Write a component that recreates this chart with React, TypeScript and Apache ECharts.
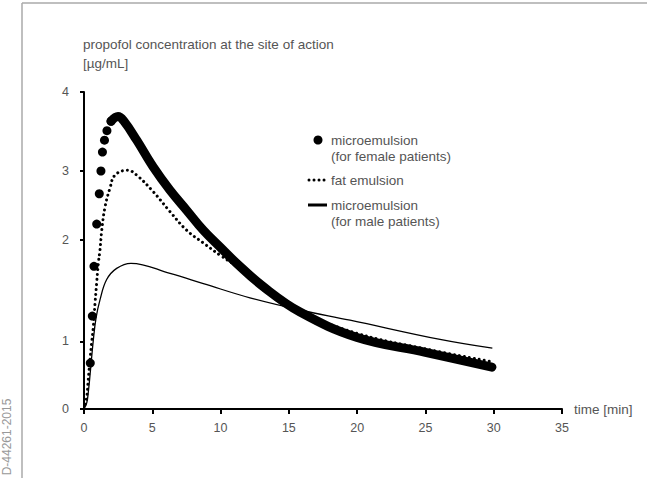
import React, { useEffect, useRef } from 'react';
import * as echarts from 'echarts';

// ---- data (time in min, concentration in µg/mL) ----
const femaleDotTimes = [0.46, 0.61, 0.73, 0.93, 1.12, 1.24, 1.35, 1.5, 1.68, 1.98];
const femaleDotValues = [0.68, 1.25, 1.74, 2.23, 2.67, 3.0, 3.24, 3.39, 3.51, 3.63];

const femaleBandTimes = [1.98, 2.49, 2.93, 3.86, 5.07, 6.3, 7.52, 8.74, 9.96, 11.18, 13.13, 15.82, 20, 25, 29.87];
const femaleBandValues = [3.63, 3.69, 3.63, 3.39, 3.05, 2.72, 2.43, 2.14, 1.93, 1.77, 1.54, 1.29, 1.04, 0.84, 0.62];

const fatTimes = [0, 0.2, 0.31, 0.44, 0.56, 0.68, 0.81, 0.93, 1.05, 1.17, 1.3, 1.54, 1.9, 2.27, 3.2, 3.86, 5.07, 6.3, 7.52, 8.74, 9.96, 11.18, 13.1, 15.8, 20, 25, 29.9];
const fatValues = [0, 0.18, 0.43, 0.73, 0.98, 1.14, 1.38, 1.58, 1.77, 1.9, 2.14, 2.48, 2.75, 2.94, 3.01, 2.94, 2.7, 2.41, 2.14, 1.97, 1.85, 1.74, 1.53, 1.3, 1.08, 0.89, 0.7];

const maleTimes = [0, 0.2, 0.31, 0.44, 0.68, 0.88, 1.17, 1.66, 2.39, 3.44, 6.3, 8.74, 12.15, 15.82, 19.48, 26.07, 29.9];
const maleValues = [0, 0.09, 0.24, 0.5, 1.01, 1.23, 1.41, 1.61, 1.72, 1.77, 1.67, 1.57, 1.43, 1.31, 1.21, 1.02, 0.9];

const xTickLabels = ['0', '5', '10', '15', '20', '25', '30', '35'];
const yTickLabels = ['0', '1', '2', '3', '4'];
const yTickValues = [0, 1, 2, 3, 4];
// the printed y axis is unevenly graduated: where each labelled value sits on the axis
const yTickAxisPos = [0, 0.852, 2.133, 3.003, 4];

const seriesNames = ['microemulsion\n(for female patients)', 'fat emulsion', 'microemulsion\n(for male patients)'];

function toAxis(v: number): number {
  for (let i = 0; i < yTickValues.length - 1; i++) {
    const a = yTickValues[i], b = yTickValues[i + 1];
    if (v <= b || i === yTickValues.length - 2) {
      const f = (v - a) / (b - a);
      return yTickAxisPos[i] + f * (yTickAxisPos[i + 1] - yTickAxisPos[i]);
    }
  }
  return v;
}

const pairs = (ts: number[], vs: number[]) => ts.map((t, i) => [t, toAxis(vs[i])]);

const FONT = '"Liberation Sans", Arial, Helvetica, sans-serif';
const TXT = '#555';

export default function App() {
  const ref = useRef<HTMLDivElement>(null);
  useEffect(() => {
    const chart = echarts.init(ref.current!, null, { renderer: 'svg' });
    const option: any = {
      animation: false,
      backgroundColor: '#fff',
      textStyle: { fontFamily: FONT },
      title: {
        text: 'propofol concentration at the site of action\n[µg/mL]',
        left: 78,
        top: 30,
        textStyle: { fontSize: 13.5, fontWeight: 'normal', color: TXT, lineHeight: 19, fontFamily: FONT },
      },
      grid: { left: 84, right: 85, top: 92, bottom: 69, containLabel: false },
      xAxis: {
        type: 'value',
        min: 0,
        max: 35,
        interval: 5,
        name: 'time [min]',
        nameLocation: 'end',
        nameGap: 12,
        nameTextStyle: { color: TXT, fontSize: 13.5, fontFamily: FONT, align: 'left', verticalAlign: 'middle' },
        axisLine: { show: true, lineStyle: { color: '#000', width: 2 } },
        axisTick: { show: true, length: 5, lineStyle: { color: '#000', width: 2 } },
        axisLabel: {
          color: TXT,
          fontSize: 12.5,
          margin: 12,
          formatter: (v: number) => xTickLabels[Math.round(v / 5)] ?? '',
        },
        splitLine: { show: false },
      },
      yAxis: {
        type: 'value',
        min: 0,
        max: 4,
        axisLine: { show: true, lineStyle: { color: '#000', width: 2 } },
        axisTick: { show: true, length: 4, customValues: yTickAxisPos, lineStyle: { color: '#000', width: 2 } },
        axisLabel: {
          color: TXT,
          fontSize: 12.5,
          margin: 15,
          customValues: yTickAxisPos,
          formatter: (v: number) => {
            let best = 0;
            yTickAxisPos.forEach((p, i) => {
              if (Math.abs(p - v) < Math.abs(yTickAxisPos[best] - v)) best = i;
            });
            return yTickLabels[best];
          },
        },
        splitLine: { show: false },
      },
      series: [
        {
          name: seriesNames[0],
          type: 'line',
          data: pairs(femaleBandTimes, femaleBandValues),
          smooth: 0.4,
          showSymbol: false,
          lineStyle: { color: '#000', width: 9, cap: 'round', join: 'round', opacity: 1 },
          z: 2,
        },
        {
          name: seriesNames[0],
          type: 'scatter',
          data: pairs(femaleDotTimes, femaleDotValues),
          symbol: 'circle',
          symbolSize: 9,
          itemStyle: { color: '#000', opacity: 1 },
          z: 3,
        },
        {
          name: seriesNames[1],
          type: 'line',
          data: pairs(fatTimes, fatValues),
          smooth: 0.4,
          showSymbol: false,
          lineStyle: { color: '#000', width: 3, type: [0.01, 5], cap: 'round' },
          z: 4,
        },
        {
          name: seriesNames[2],
          type: 'line',
          data: pairs(maleTimes, maleValues),
          smooth: 0.4,
          showSymbol: false,
          lineStyle: { color: '#000', width: 1.3 },
          z: 5,
        },
      ],
      graphic: [
        // frame
        { type: 'line', shape: { x1: 22, y1: 3, x2: 660, y2: 3 }, style: { stroke: '#aaa', lineWidth: 1.5 } },
        { type: 'line', shape: { x1: 22, y1: 3, x2: 22, y2: 490 }, style: { stroke: '#aaa', lineWidth: 1.5 } },
        {
          type: 'text',
          x: 7,
          y: 437,
          rotation: Math.PI / 2,
          style: { text: 'D-44261-2015', fill: '#999', font: `12px ${FONT}`, align: 'center', verticalAlign: 'middle' },
        },
        // legend
        { type: 'circle', shape: { cx: 318, cy: 140, r: 4.5 }, style: { fill: '#000' } },
        {
          type: 'text',
          x: 331,
          y: 132,
          style: { text: seriesNames[0], fill: TXT, font: `13.5px ${FONT}`, lineHeight: 16, verticalAlign: 'top' },
        },
        {
          type: 'line',
          shape: { x1: 309, y1: 180, x2: 327, y2: 180 },
          style: { stroke: '#000', lineWidth: 3, lineDash: [0.01, 5], lineCap: 'round' },
        },
        {
          type: 'text',
          x: 331,
          y: 172,
          style: { text: seriesNames[1], fill: TXT, font: `13.5px ${FONT}`, lineHeight: 16, verticalAlign: 'top' },
        },
        { type: 'line', shape: { x1: 308, y1: 205, x2: 327, y2: 205 }, style: { stroke: '#000', lineWidth: 3 } },
        {
          type: 'text',
          x: 331,
          y: 197,
          style: { text: seriesNames[2], fill: TXT, font: `13.5px ${FONT}`, lineHeight: 16, verticalAlign: 'top' },
        },
      ],
    };
    chart.setOption(option);
    return () => chart.dispose();
  }, []);
  return (
    <div
      ref={ref}
      style={{ position: 'absolute', left: 0, top: 0, width: 647, height: 478, background: '#fff' }}
    />
  );
}
